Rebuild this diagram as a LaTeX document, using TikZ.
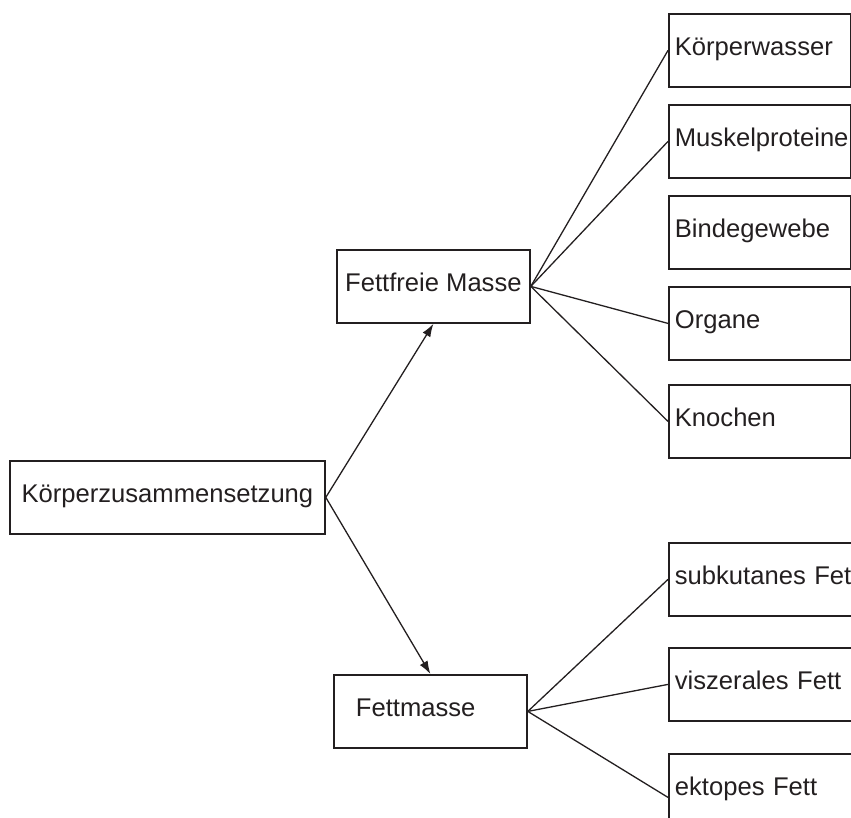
\documentclass[tikz,border=0pt]{standalone}
\usepackage{fontspec}
\setmainfont{Liberation Sans}
\usetikzlibrary{arrows.meta}
\definecolor{ink}{RGB}{35,31,32}
\tikzset{
	box/.style={draw=ink, text=ink, line width=1.8pt, anchor=north west, minimum height=73pt,
		inner xsep=6pt, text height=17pt, text depth=6pt, font=\fontsize{25.6}{30}\selectfont},
	leaf/.style={box, minimum width=182pt, text width=170pt, align=left},
	wideleaf/.style={box, minimum width=220pt, text width=208pt, align=left},
	link/.style={draw=ink, line width=1.3pt},
}
\begin{document}
\begin{tikzpicture}[x=1pt, y=-1pt]
	\clip (0, 0) rectangle (851, 818);
	% Boxes:
	\node[box, minimum width=315pt](body) at (9, 460){Körperzusammensetzung};
	\node[box, minimum width=193pt](ffm) at (336, 249){Fettfreie Masse};
	\node[box, minimum width=193pt, inner xsep=22pt, text width=149pt, align=left](fm) at (333, 674){Fettmasse};
	\node[leaf](water) at (668, 13){Körperwasser};
	\node[leaf](protein) at (668, 104){Muskelproteine};
	\node[leaf](tissue) at (668, 195){Bindegewebe};
	\node[leaf](organs) at (668, 286){Organe};
	\node[leaf](bones) at (668, 384){Knochen};
	\node[wideleaf](subcut) at (668, 542){subkutanes Fett};
	\node[wideleaf](visc) at (668, 647){viszerales Fett};
	\node[wideleaf](ectop) at (668, 753){ektopes Fett};
	% Arrows and wires:
	\draw[link, -{Latex[length=13pt, width=9pt]}] (body.east) -- (ffm.south);
	\draw[link, -{Latex[length=13pt, width=9pt]}] (body.east) -- (fm.north);
	\draw[link] (ffm.east) -- (water.west);
	\draw[link] (ffm.east) -- (protein.west);
	\draw[link] (ffm.east) -- (organs.west);
	\draw[link] (ffm.east) -- (bones.west);
	\draw[link] (fm.east) -- (subcut.west);
	\draw[link] (fm.east) -- (visc.west);
	\draw[link] (fm.east) -- ([yshift=-7pt]ectop.west);
\end{tikzpicture}
\end{document}
